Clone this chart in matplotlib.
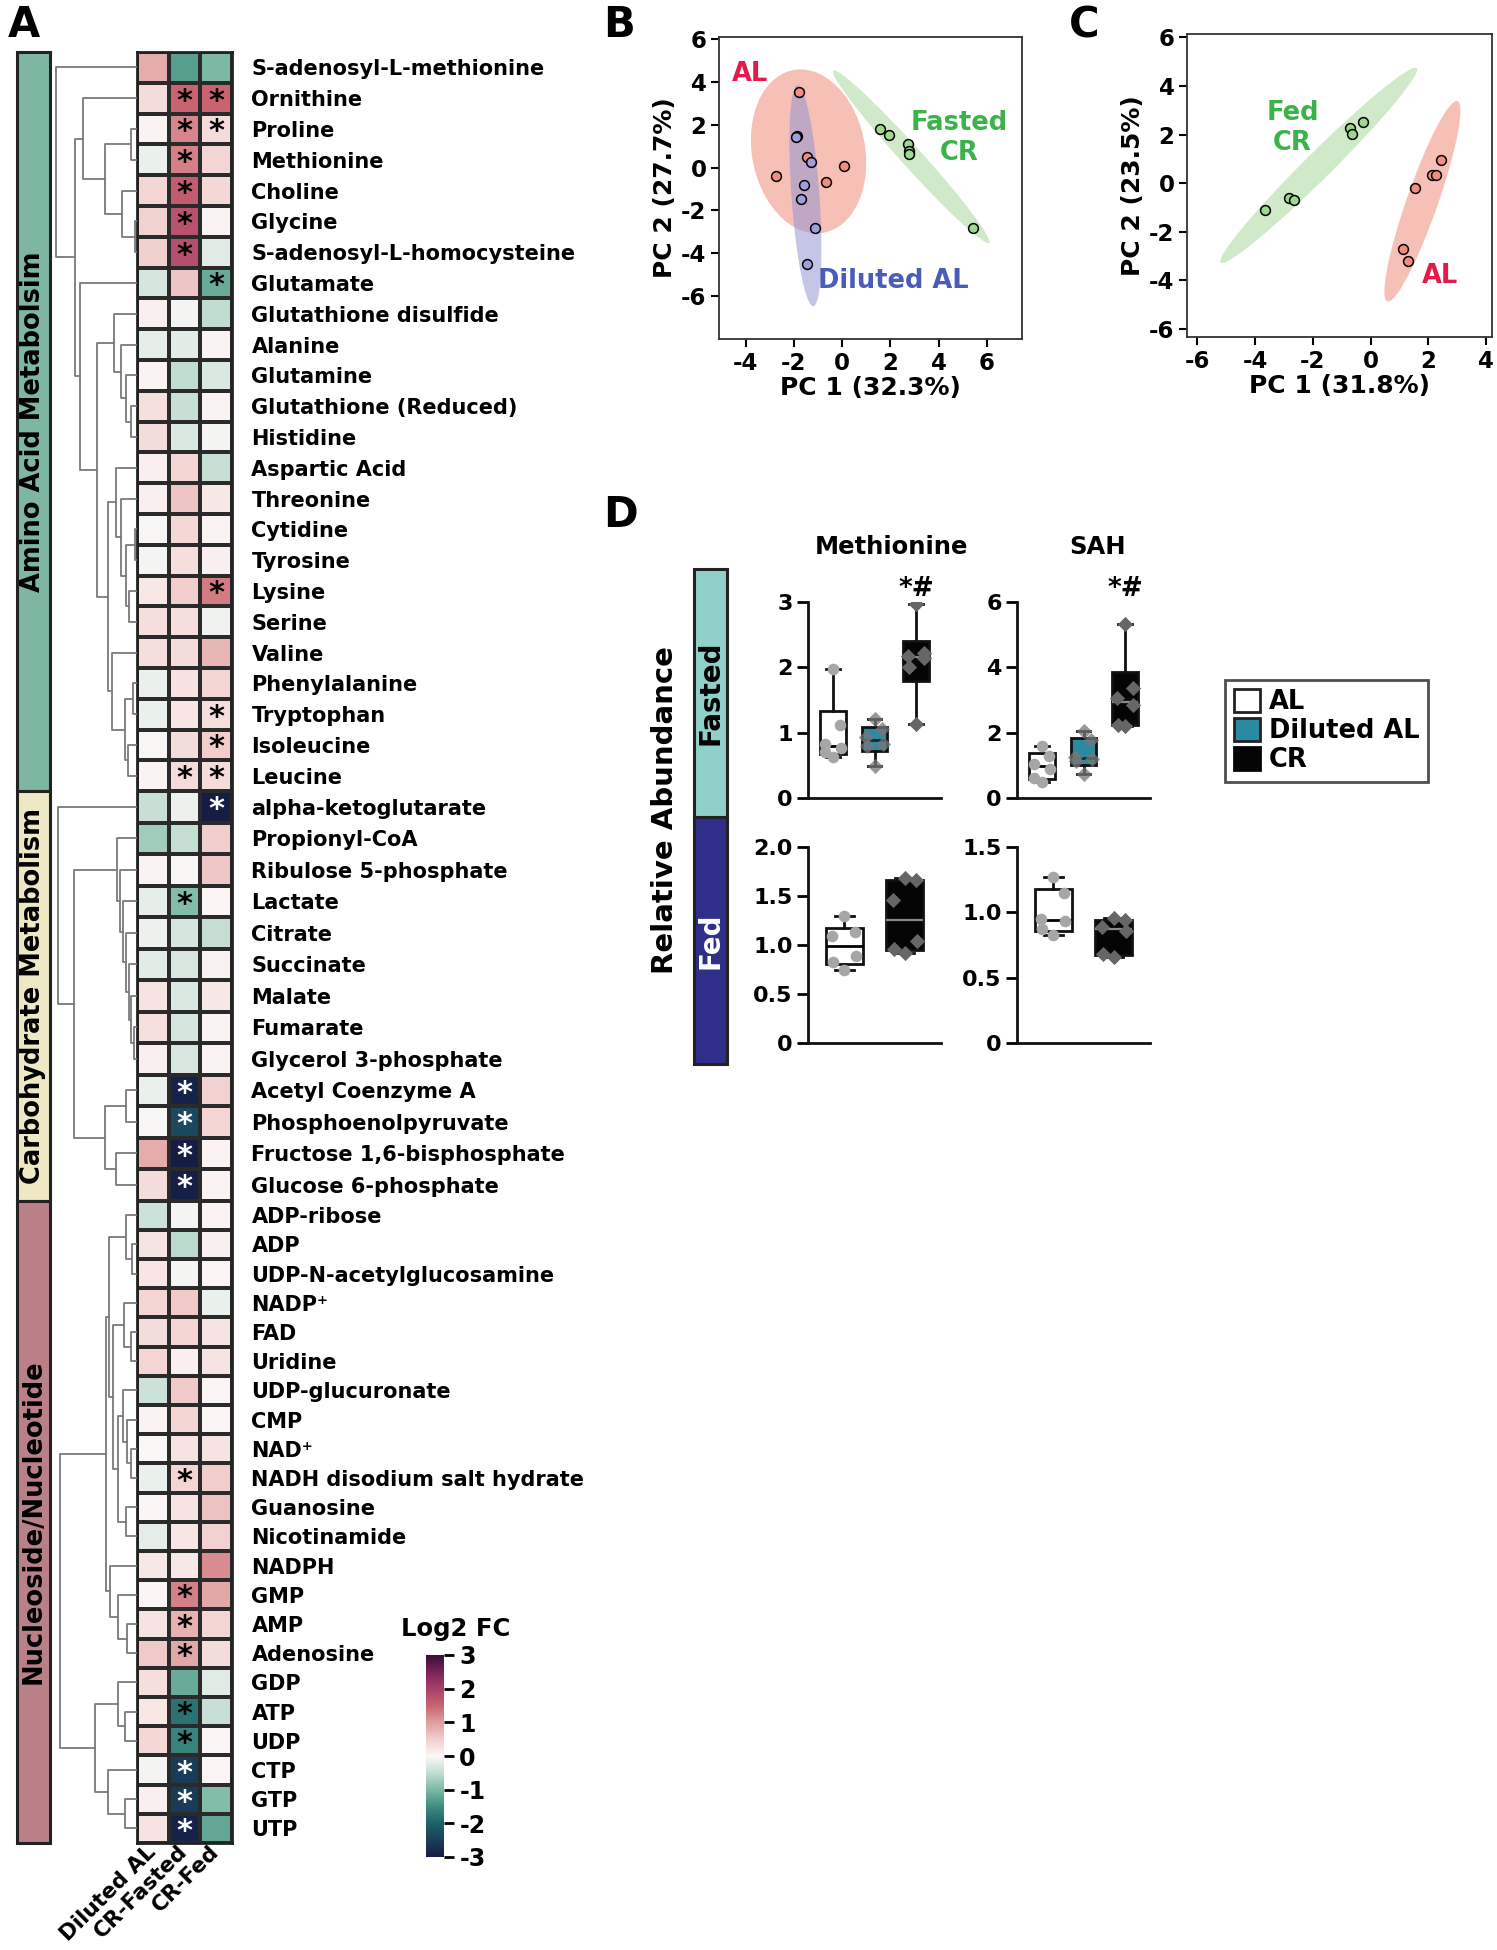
import numpy as np
import matplotlib
matplotlib.use("Agg")
import matplotlib.pyplot as plt
from matplotlib.colors import LinearSegmentedColormap
from matplotlib.patches import Ellipse, Rectangle, Patch

plt.rcParams['font.family'] = 'DejaVu Sans'
plt.rcParams['font.weight'] = 'bold'
plt.rcParams['axes.labelweight'] = 'bold'
plt.rcParams['axes.unicode_minus'] = False

## Panel A data
# ===============================
amino = ["S-adenosyl-L-methionine", "Ornithine", "Proline", "Methionine", "Choline", "Glycine",
         "S-adenosyl-L-homocysteine", "Glutamate", "Glutathione disulfide", "Alanine", "Glutamine",
         "Glutathione (Reduced)", "Histidine", "Aspartic Acid", "Threonine", "Cytidine", "Tyrosine",
         "Lysine", "Serine", "Valine", "Phenylalanine", "Tryptophan", "Isoleucine", "Leucine"]
carbo = ["alpha-ketoglutarate", "Propionyl-CoA", "Ribulose 5-phosphate", "Lactate", "Citrate",
         "Succinate", "Malate", "Fumarate", "Glycerol 3-phosphate", "Acetyl Coenzyme A",
         "Phosphoenolpyruvate", "Fructose 1,6-bisphosphate", "Glucose 6-phosphate"]
nucleo = ["ADP-ribose", "ADP", "UDP-N-acetylglucosamine", "NADP⁺", "FAD", "Uridine",
          "UDP-glucuronate", "CMP", "NAD⁺", "NADH disodium salt hydrate", "Guanosine",
          "Nicotinamide", "NADPH", "GMP", "AMP", "Adenosine", "GDP", "ATP", "UDP", "CTP", "GTP", "UTP"]
conditions = ["Diluted AL", "CR-Fasted", "CR-Fed"]
group_names = ["Amino Acid Metabolsim", "Carbohydrate Metabolism", "Nucleoside/Nucleotide"]

# log2 fold change: Diluted AL, CR-Fasted, CR-Fed
fc_amino = [[0.85, -1.30, -1.00], [0.35, 1.50, 1.50], [0.05, 1.20, 0.35], [-0.15, 1.25, 0.40],
            [0.40, 1.60, 0.38], [0.45, 1.75, 0.05], [0.48, 1.80, -0.25], [-0.35, 0.60, -1.15],
            [0.10, -0.05, -0.50], [-0.20, -0.22, 0.05], [0.05, -0.50, -0.30], [0.30, -0.45, 0.05],
            [0.35, -0.30, -0.07], [0.10, 0.40, -0.45], [0.10, 0.60, 0.20], [-0.03, 0.38, 0.05],
            [-0.07, 0.32, 0.10], [0.20, 0.50, 1.30], [0.32, 0.32, -0.10], [0.32, 0.35, 0.75],
            [-0.15, 0.28, 0.40], [-0.15, 0.22, 0.32], [-0.04, 0.35, 0.50], [0.05, 0.35, 0.35]]
fc_carbo = [[-0.45, -0.12, -3.00], [-0.75, -0.48, 0.50], [0.05, -0.04, 0.58], [-0.20, -0.95, 0.04],
            [-0.12, -0.35, -0.47], [-0.22, -0.32, 0.08], [0.25, -0.30, 0.20], [0.30, -0.35, 0.05],
            [0.10, -0.32, 0.05], [-0.15, -2.90, 0.45], [-0.03, -2.35, 0.40], [0.85, -3.00, 0.05],
            [0.33, -2.95, 0.05]]
fc_nucleo = [[-0.40, -0.07, 0.05], [0.25, -0.55, 0.10], [0.22, -0.07, 0.04], [0.42, 0.55, -0.15],
             [0.35, 0.42, 0.25], [0.42, 0.10, 0.25], [-0.40, 0.55, 0.04], [0.05, 0.42, 0.04],
             [-0.02, 0.25, 0.25], [-0.15, 0.42, 0.50], [0.03, 0.25, 0.62], [-0.20, 0.22, 0.45],
             [0.20, 0.20, 1.15], [0.04, 1.25, 0.90], [0.25, 0.80, 0.42], [0.55, 0.90, 0.35],
             [0.32, -1.15, -0.25], [0.20, -1.80, -0.45], [0.38, -1.60, 0.04], [-0.05, -2.55, 0.04],
             [0.10, -2.55, -0.95], [0.25, -2.90, -1.20]]

sig_cr_fasted = ["Ornithine", "Proline", "Methionine", "Choline", "Glycine", "S-adenosyl-L-homocysteine",
                 "Leucine", "Lactate", "Acetyl Coenzyme A", "Phosphoenolpyruvate",
                 "Fructose 1,6-bisphosphate", "Glucose 6-phosphate", "NADH disodium salt hydrate",
                 "GMP", "AMP", "Adenosine", "ATP", "UDP", "CTP", "GTP", "UTP"]
sig_cr_fed = ["Ornithine", "Proline", "Glutamate", "Lysine", "Tryptophan", "Isoleucine", "Leucine",
              "alpha-ketoglutarate"]

# dendrograms: [left, right, height], leaves are row indices inside the group
tree_amino = [0, [[1, [[2, 3, .08], [4, [5, 6, .03], .19], .40], .67],
                  [7, [[8, [9, [10, [11, 12, .08], .14], .20], .28],
                       [[13, [14, [[15, 16, .03], [17, 18, .10], .13], .20], .26],
                        [19, [[20, 21, .05], [22, 23, .11], .15], .31], .36], .49], .70], .77], 1.0]
tree_carbo = [0, [[1, [2, [3, [4, [5, [6, [7, 8, .04], .07], .10], .13], .17], .21], .25],
                  [[9, 10, .13], [11, 12, .26], .40], .78], .97]
tree_nucleo = [[[[0, [1, 2, .06], .14],
                 [[3, [4, 5, .08], .16], [[6, [7, [8, 9, .08], .12], .17], [10, 11, .14], .24], .30], .34],
                [12, [13, [14, 15, .12], .24], .33], .38],
               [[16, [17, 18, .15], .23], [19, [20, 21, .15], .36], .52], .95]

## Panel B / C data
pca_b_x = {"AL": [-1.77, -1.85, -1.46, 0.06, -2.73, -0.65],
           "Diluted AL": [-1.90, -1.27, -1.57, -1.71, -1.14, -1.46],
           "Fasted CR": [1.55, 1.94, 2.74, 2.76, 2.76, 5.43]}
pca_b_y = {"AL": [3.54, 1.46, 0.51, 0.10, -0.40, -0.65],
           "Diluted AL": [1.42, 0.26, -0.83, -1.46, -2.81, -4.48],
           "Fasted CR": [1.82, 1.52, 1.10, 0.79, 0.66, -2.81]}
# ellipse: centre x, centre y, semi-major, semi-minor, angle (deg)
ell_b = {"AL": [-1.39, 0.76, 3.85, 2.35, 98.0],
         "Diluted AL": [-1.52, -1.31, 5.17, 0.58, 93.6],
         "Fasted CR": [2.86, 0.51, 5.15, 0.45, -51.3]}
pca_c_x = {"Fed CR": [-3.67, -2.82, -2.64, -0.71, -0.66, -0.27],
           "AL": [2.42, 2.11, 2.26, 1.55, 1.12, 1.30]}
pca_c_y = {"Fed CR": [-1.09, -0.60, -0.69, 2.28, 2.01, 2.50],
           "AL": [0.95, 0.33, 0.33, -0.21, -2.70, -3.23]}
ell_c = {"Fed CR": [-1.80, 0.73, 5.25, 0.50, 49.8],
         "AL": [1.79, -0.75, 4.30, 0.55, 73.7]}

## Panel D data
meth_fasted = {"AL": [1.97, 1.12, 0.83, 0.77, 0.70, 0.62],
               "Diluted AL": [1.21, 1.05, 0.94, 0.83, 0.80, 0.49],
               "CR": [2.97, 2.22, 2.18, 2.14, 2.00, 1.14]}
sah_fasted = {"AL": [1.59, 1.30, 1.05, 0.90, 0.62, 0.50],
              "Diluted AL": [2.04, 1.78, 1.24, 1.18, 1.12, 0.72],
              "CR": [5.34, 3.37, 3.05, 2.84, 2.25, 2.20]}
meth_fed = {"AL": [1.30, 1.13, 1.09, 0.89, 0.83, 0.74],
            "CR": [1.68, 1.66, 1.46, 1.04, 0.96, 0.92]}
sah_fed = {"AL": [1.27, 1.15, 0.95, 0.93, 0.87, 0.83],
           "CR": [0.96, 0.94, 0.89, 0.86, 0.68, 0.66]}

# ===============================
W, H = 1497, 1950
fig = plt.figure(figsize=(W / 100, H / 100), dpi=100)


def box(x0, y0, x1, y1):
    return fig.add_axes([x0 / W, 1 - y1 / H, (x1 - x0) / W, (y1 - y0) / H])


cmap = LinearSegmentedColormap.from_list("curl", [
    (0.0, "#151d44"), (1 / 12, "#1b3f58"), (2 / 12, "#1e6269"), (3 / 12, "#3f8d80"),
    (4 / 12, "#7cb9a5"), (5 / 12, "#c2ddd1"), (6 / 12, "#fbf8f7"), (7 / 12, "#f1cfcd"),
    (8 / 12, "#df9f9f"), (9 / 12, "#c9646f"), (10 / 12, "#a8416b"), (11 / 12, "#7a2358"),
    (1.0, "#3b0f3a")])

names = amino + carbo + nucleo
values = np.vstack([fc_amino, fc_carbo, fc_nucleo])
sizes = [len(amino), len(carbo), len(nucleo)]
row_h = [30.8, 31.5, 29.2]
edges = np.concatenate([[0], np.cumsum(np.repeat(row_h, sizes))])
centers = (edges[:-1] + edges[1:]) / 2

## Heatmap
ax_h = box(137, 52, 232, 1843)
mesh = ax_h.pcolormesh(np.arange(4), edges, values, cmap=cmap, vmin=-3, vmax=3,
                       edgecolors="#2a2a2a", linewidth=1.6)
ax_h.set_xlim(0, 3)
ax_h.set_ylim(edges[-1], 0)
ax_h.yaxis.tick_right()
ax_h.set_yticks(centers)
ax_h.set_yticklabels(names, fontsize=15)
ax_h.set_xticks([0.5, 1.5, 2.5])
ax_h.set_xticklabels(conditions, fontsize=15.5, rotation=45, ha="right", va="center",
                     rotation_mode="anchor")
ax_h.tick_params(length=0, pad=14, axis="y")
ax_h.tick_params(length=0, pad=4, axis="x")
for s in ax_h.spines.values():
    s.set_linewidth(2)
    s.set_color("#222")
for j, sig in [(1, sig_cr_fasted), (2, sig_cr_fed)]:
    for nm in sig:
        i = names.index(nm)
        col = "white" if values[i, j] < -2 else "black"
        ax_h.text(j + 0.5, centers[i] + 3, "*", ha="center", va="center", fontsize=22, color=col)

## Dendrogram
ax_d = box(50, 52, 137, 1843)
ax_d.set_xlim(1.074, 0)
ax_d.set_ylim(edges[-1], 0)
ax_d.axis("off")


def draw_tree(node, leaf_y):
    if isinstance(node, int):
        return leaf_y[node], 0.0
    left, right, h = node
    y1, h1 = draw_tree(left, leaf_y)
    y2, h2 = draw_tree(right, leaf_y)
    ax_d.plot([h1, h, h, h2], [y1, y1, y2, y2], color="#7a7a7a", lw=1.3)
    return (y1 + y2) / 2, h


starts = np.cumsum([0] + sizes)
for tree, k in zip([tree_amino, tree_carbo, tree_nucleo], range(3)):
    draw_tree(tree, centers[starts[k]:starts[k + 1]])

## Group bar
ax_g = box(17, 52, 50, 1843)
ax_g.set_xlim(0, 1)
ax_g.set_ylim(edges[-1], 0)
ax_g.axis("off")
group_colors = ["#7db7a1", "#efe8c4", "#b98187"]
for k in range(3):
    y0, y1 = edges[starts[k]], edges[starts[k + 1]]
    ax_g.add_patch(Rectangle((0, y0), 1, y1 - y0, fc=group_colors[k], ec="#222", lw=2.2, clip_on=False))
    ax_g.text(0.5, (y0 + y1) / 2, group_names[k], rotation=90, ha="center", va="center", fontsize=18.5)

## Colorbar
ax_cb = box(426, 1655, 444, 1857)
cb = fig.colorbar(mesh, cax=ax_cb, ticks=range(-3, 4))
cb.outline.set_visible(False)
cb.ax.tick_params(length=7, width=2, labelsize=17, pad=4)
fig.text(456 / W, 1 - 1629 / H, "Log2 FC", ha="center", va="center", fontsize=17.5)

## Panel B
red_f, pur_f, grn_f = "#f28e80", "#9e9fd8", "#9fd690"
ax_b = box(719, 37, 1022, 339)
for grp, col in [("AL", "#ee8270"), ("Diluted AL", "#8c8fd0"), ("Fasted CR", "#a3d494")]:
    cx, cy, a, b, ang = ell_b[grp]
    ax_b.add_patch(Ellipse((cx, cy), 2 * a, 2 * b, angle=ang, fc=col, alpha=0.5, lw=0, zorder=1))
for grp, col in [("AL", red_f), ("Diluted AL", pur_f), ("Fasted CR", grn_f)]:
    ax_b.scatter(pca_b_x[grp], pca_b_y[grp], s=50, c=col, edgecolors="black", linewidths=1.1, zorder=3)
ax_b.set_xlim(-5.1, 7.45)
ax_b.set_ylim(-8.0, 6.1)
ax_b.set_xticks(range(-4, 7, 2))
ax_b.set_yticks(range(-6, 7, 2))
ax_b.set_xlabel("PC 1 (32.3%)", fontsize=18, labelpad=1)
ax_b.set_ylabel("PC 2 (27.7%)", fontsize=18, labelpad=3)
ax_b.text(-3.83, 4.38, "AL", color="#e5194a", fontsize=18.5, ha="center", va="center")
ax_b.text(4.86, 1.37, "Fasted\nCR", color="#3bb34a", fontsize=18.5, ha="center", va="center", linespacing=1.2)
ax_b.text(2.14, -5.31, "Diluted AL", color="#4b5bb8", fontsize=18.5, ha="center", va="center")

## Panel C
ax_c = box(1187, 34, 1492, 337)
for grp, col in [("Fed CR", "#a3d494"), ("AL", "#ee8270")]:
    cx, cy, a, b, ang = ell_c[grp]
    ax_c.add_patch(Ellipse((cx, cy), 2 * a, 2 * b, angle=ang, fc=col, alpha=0.5, lw=0, zorder=1))
for grp, col in [("Fed CR", grn_f), ("AL", red_f)]:
    ax_c.scatter(pca_c_x[grp], pca_c_y[grp], s=50, c=col, edgecolors="black", linewidths=1.1, zorder=3)
ax_c.set_xlim(-6.36, 4.2)
ax_c.set_ylim(-6.34, 6.14)
ax_c.set_xticks(range(-6, 5, 2))
ax_c.set_yticks(range(-6, 7, 2))
ax_c.set_xlabel("PC 1 (31.8%)", fontsize=18, labelpad=1)
ax_c.set_ylabel("PC 2 (23.5%)", fontsize=18, labelpad=3)
ax_c.text(-2.71, 2.27, "Fed\nCR", color="#3bb34a", fontsize=18.5, ha="center", va="center", linespacing=1.2)
ax_c.text(2.40, -3.81, "AL", color="#e5194a", fontsize=18.5, ha="center", va="center")

for ax in (ax_b, ax_c):
    ax.tick_params(direction="out", length=6, width=1.5, labelsize=16.5, pad=3)
    for s in ax.spines.values():
        s.set_linewidth(1.3)
        s.set_color("#333")

## Panel D
box_fc = {"AL": "white", "Diluted AL": "#2b8aa3", "CR": "#050505"}
pt_style = {"AL": ("o", "#a6a6a6", 1.0), "Diluted AL": ("D", "#777777", 0.75), "CR": ("D", "#666666", 1.0)}
med_col = {"AL": "black", "Diluted AL": "#222", "CR": "#8a8a8a"}
offsets = np.array([0.0, 0.18, -0.2, 0.2, -0.18, 0.0])


def box_panel(ax, data, top, ticks, sig=None):
    groups = list(data.keys())
    pos = np.arange(1, len(groups) + 1)
    stats = []
    for g in groups:
        v = np.asarray(data[g])
        q1, med, q3 = np.percentile(v, [25, 50, 75], method="weibull")
        stats.append(dict(med=med, q1=q1, q3=q3, whislo=v.min(), whishi=v.max(), fliers=[]))
    bp = ax.bxp(stats, positions=pos, widths=0.62, patch_artist=True, showfliers=False,
                capwidths=0.32,
                boxprops=dict(lw=2, ec="#111"), whiskerprops=dict(lw=2, color="#111"),
                capprops=dict(lw=2, color="#111"), medianprops=dict(lw=2))
    for g, patch, med in zip(groups, bp["boxes"], bp["medians"]):
        patch.set_facecolor(box_fc[g])
        med.set_color(med_col[g])
        med.set_linewidth(1.6 if g == "CR" else 2)
    for p, g in zip(pos, groups):
        mk, col, al = pt_style[g]
        v = np.asarray(data[g])
        ax.scatter(p + offsets[:len(v)], v, marker=mk, s=70 if mk == "o" else 60, c=col, alpha=al,
                   lw=0, zorder=3)
    ax.set_xlim(0.4, len(groups) + 0.6)
    ax.set_ylim(0, top)
    ax.set_yticks(ticks)
    ax.set_yticklabels(["0" if t == 0 else (f"{t:g}" if top >= 3 else f"{t:.1f}") for t in ticks])
    ax.set_xticks([])
    for s in ("top", "right"):
        ax.spines[s].set_visible(False)
    for s in ("left", "bottom"):
        ax.spines[s].set_linewidth(2)
        ax.spines[s].set_color("#111")
    ax.tick_params(axis="y", length=8, width=2, labelsize=16, pad=3)
    if sig:
        ax.text(pos[-1], top, sig, ha="center", va="bottom", fontsize=19)


ax_m1 = box(808, 602, 941, 798)
box_panel(ax_m1, meth_fasted, 3, [0, 1, 2, 3], "*#")
ax_s1 = box(1017, 602, 1150, 798)
box_panel(ax_s1, sah_fasted, 6, [0, 2, 4, 6], "*#")
ax_m2 = box(808, 847, 941, 1043)
box_panel(ax_m2, meth_fed, 2.0, [0, 0.5, 1.0, 1.5, 2.0])
ax_s2 = box(1017, 847, 1150, 1043)
box_panel(ax_s2, sah_fed, 1.5, [0, 0.5, 1.0, 1.5])

fig.text(891 / W, 1 - 547 / H, "Methionine", ha="center", va="center", fontsize=17.5)
fig.text(1098 / W, 1 - 547 / H, "SAH", ha="center", va="center", fontsize=17.5)

ax_st = box(694, 569, 727, 1064)
ax_st.set_xlim(0, 1)
ax_st.set_ylim(0, 2)
ax_st.axis("off")
ax_st.add_patch(Rectangle((0, 1), 1, 1, fc="#8fd1c9", ec="#222", lw=2.2, clip_on=False))
ax_st.add_patch(Rectangle((0, 0), 1, 1, fc="#2f2e88", ec="#222", lw=2.2, clip_on=False))
ax_st.text(0.5, 1.5, "Fasted", rotation=90, ha="center", va="center", fontsize=20, color="black")
ax_st.text(0.5, 0.5, "Fed", rotation=90, ha="center", va="center", fontsize=20, color="white")
fig.text(665 / W, 1 - 810 / H, "Relative Abundance", rotation=90, ha="center", va="center", fontsize=21)

handles = [Patch(fc=box_fc["AL"], ec="#222", lw=2, label="AL"),
           Patch(fc=box_fc["Diluted AL"], ec="#222", lw=2, label="Diluted AL"),
           Patch(fc=box_fc["CR"], ec="#050505", lw=2, label="CR")]
leg = fig.legend(handles=handles, loc="upper left", bbox_to_anchor=(1225 / W, 1 - 680 / H),
                 frameon=True, fancybox=False, edgecolor="#222", prop=dict(size=18.5, weight="bold"),
                 handlelength=1.0, handleheight=1.0, handletextpad=0.35, labelspacing=0.1,
                 borderpad=0.35, borderaxespad=0)
leg.get_frame().set_linewidth(2)

## Panel letters
for lbl, x, y in [("A", 8, 4), ("B", 603, 4), ("C", 1069, 4), ("D", 603, 494)]:
    fig.text(x / W, 1 - y / H, lbl, ha="left", va="top", fontsize=30)

fig.savefig("out.png", dpi=100)
